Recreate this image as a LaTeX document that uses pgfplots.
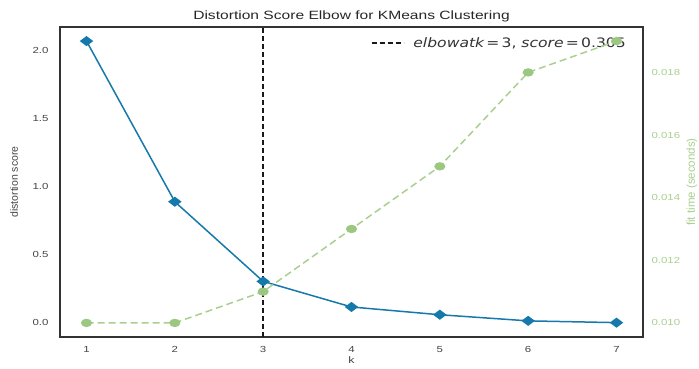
\documentclass[border=0pt]{standalone}
\usepackage{fontspec}
\setmainfont{Liberation Sans}[FakeStretch=1.3]
\newfontfamily\plainsans{Liberation Sans}
\newfontfamily\legfont{DejaVu Sans}[FakeStretch=1.2]
\usepackage{pgfplots}
\pgfplotsset{compat=1.18}
\definecolor{kblue}{HTML}{1579AB}
\definecolor{kgreen}{HTML}{A9CF8F}
\definecolor{kgreendark}{HTML}{9CC781}
\definecolor{tickgray}{HTML}{444444}
\begin{document}
\begin{tikzpicture}
\path[use as bounding box] (0,0) rectangle (699pt,368pt);
\begin{axis}[
  at={(60pt,31pt)}, anchor=south west,
  scale only axis, width=583pt, height=310pt,
  xmin=0.7, xmax=7.3, ymin=-0.1035, ymax=2.1735,
  xtick={1,2,3,4,5,6,7}, ytick={0,0.5,1,1.5,2},
  /pgf/number format/assume math mode=true,
  yticklabel style={/pgf/number format/fixed, /pgf/number format/precision=1, /pgf/number format/fixed zerofill, xshift=-8pt},
  xticklabel style={yshift=-6pt},
  tick label style={font=\fontsize{8.8}{10}\selectfont, text=tickgray},
  major tick length=0pt,
  axis line style={black!80, line width=1.2pt},
  xlabel={k}, ylabel={distortion score},
  xlabel style={at={(axis description cs:0.5,0)}, yshift=-23pt, anchor=center, font=\fontsize{9.5}{11}\selectfont, text=tickgray},
  ylabel style={at={(axis description cs:0,0.5)}, yshift=46pt, anchor=center, font=\plainsans\fontsize{10.5}{12}\selectfont, text=tickgray},
  legend style={draw=none, fill=none, at={(rel axis cs:1,1)}, anchor=north east, xshift=-12pt, yshift=-6pt, font=\legfont\fontsize{13}{15}\selectfont, text=black!80},
  legend image code/.code={\draw[#1] (0pt,0pt) -- (32pt,0pt); \path (39pt,0pt);},
  clip=false,
]
\addplot[black!90, line width=1.5pt, dash pattern=on 5pt off 3pt] coordinates {(3,-0.1035) (3,2.1735)};
\addlegendentry{\itshape elbowatk\upshape\,=\,3, \itshape score\upshape\,=\,0.305}
\addplot[kblue, line width=1.5pt, mark=diamond*, mark size=5.5pt, mark options={rotate=90}, forget plot] coordinates {(1,2.07) (2,0.89) (3,0.305) (4,0.117) (5,0.06) (6,0.015) (7,0.002)};
\node[font=\fontsize{12}{14}\selectfont, text=black!85, anchor=center] at ([yshift=11pt]rel axis cs:0.5,1) {Distortion Score Elbow for KMeans Clustering};
\end{axis}
\begin{axis}[
  at={(60pt,31pt)}, anchor=south west,
  scale only axis, width=583pt, height=310pt,
  xmin=0.7, xmax=7.3, ymin=0.00955, ymax=0.01945,
  axis x line=none, axis y line*=right,
  axis line style={draw=none},
  ytick={0.010,0.012,0.014,0.016,0.018},
  scaled y ticks=false,
  /pgf/number format/assume math mode=true,
  yticklabel style={/pgf/number format/fixed, /pgf/number format/precision=3, /pgf/number format/fixed zerofill, xshift=5pt, font=\fontsize{8.8}{10}\selectfont, text=kgreen},
  major tick length=0pt,
  ylabel={fit time (seconds)},
  ylabel style={at={(axis description cs:1,0.5)}, yshift=-49pt, anchor=center, font=\plainsans\fontsize{11.5}{13}\selectfont, text=kgreen},
  clip=false,
]
\addplot[kgreen, line width=1.5pt, dash pattern=on 7pt off 4pt, mark=*, mark size=3.4pt, mark options={solid, fill=kgreendark, draw=kgreendark, xscale=1.4}] coordinates {(1,0.010) (2,0.010) (3,0.011) (4,0.013) (5,0.015) (6,0.018) (7,0.019)};
\end{axis}
\end{tikzpicture}
\end{document}
